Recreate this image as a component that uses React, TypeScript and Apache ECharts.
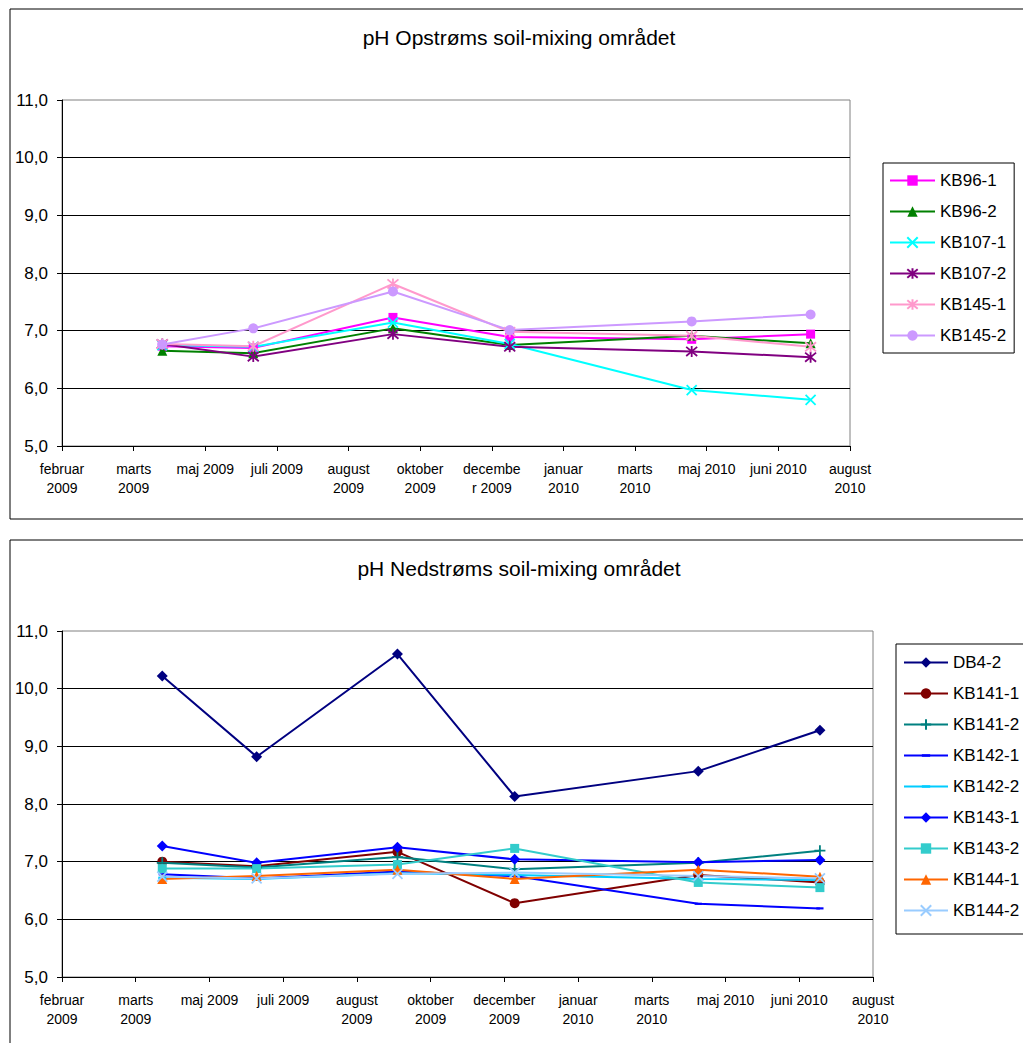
import React, { useEffect, useRef } from "react";
import * as echarts from "echarts";

const FONT = '"Liberation Sans", Arial, sans-serif';

// Tick labels (x axis positions 0..11)
const topTickLabels = [
  "februar\n2009", "marts\n2009", "maj 2009", "juli 2009", "august\n2009", "oktober\n2009",
  "decembe\nr 2009", "januar\n2010", "marts\n2010", "maj 2010", "juni 2010", "august\n2010",
];
const bottomTickLabels = [
  "februar\n2009", "marts\n2009", "maj 2009", "juli 2009", "august\n2009", "oktober\n2009",
  "december\n2009", "januar\n2010", "marts\n2010", "maj 2010", "juni 2010", "august\n2010",
];

// Sampling times, in axis units (tick index along the date axis)
const topTimes = [1.4, 2.67, 4.62, 6.25, 8.79, 10.45];
const bottomTimes = [1.36, 2.64, 4.55, 6.14, 8.63, 10.28];

// Upstream series
const topNames = ["KB96-1", "KB96-2", "KB107-1", "KB107-2", "KB145-1", "KB145-2"];
const kb96_1 = [6.73, 6.7, 7.23, 6.89, 6.85, 6.94];
const kb96_2 = [6.65, 6.61, 7.04, 6.75, 6.91, 6.78];
const kb107_1 = [6.75, 6.72, 7.14, 6.77, 5.97, 5.8];
const kb107_2 = [6.77, 6.55, 6.94, 6.72, 6.64, 6.54];
const kb145_1 = [6.77, 6.73, 7.81, 6.98, 6.91, 6.72];
const kb145_2 = [6.76, 7.04, 7.68, 7.01, 7.16, 7.28];

// Downstream series
const bottomNames = ["DB4-2", "KB141-1", "KB141-2", "KB142-1", "KB142-2", "KB143-1", "KB143-2", "KB144-1", "KB144-2"];
const db4_2 = [10.22, 8.82, 10.6, 8.13, 8.57, 9.28];
const kb141_1 = [7.0, 6.92, 7.17, 6.28, 6.77, 6.64];
const kb141_2 = [6.98, 6.9, 7.08, 6.87, 6.98, 7.19];
const kb142_1 = [6.78, 6.71, 6.83, 6.75, 6.27, 6.19];
const kb142_2 = [6.72, 6.7, 6.8, 6.77, 6.7, 6.68];
const kb143_1 = [7.27, 6.98, 7.25, 7.04, 6.99, 7.03];
const kb143_2 = [6.88, 6.88, 6.95, 7.23, 6.64, 6.55];
const kb144_1 = [6.7, 6.75, 6.86, 6.7, 6.86, 6.74];
const kb144_2 = [6.74, 6.71, 6.79, 6.81, 6.75, 6.71];

const X_PATH = "path://M0,0L10,10M10,0L0,10";
const STAR_PATH = "path://M0,0L10,10M10,0L0,10M5,-1L5,11";
const PLUS_PATH = "path://M5,0L5,10M0,5L10,5";
const DASH_PATH = "path://M0,0M1,3.8L9,3.8L9,6.2L1,6.2ZM10,10";

function mk(name: string, color: string, symbol: string, size: any, xs: number[], ys: number[], idx: number, stroke = false) {
  return {
    type: "line",
    name,
    xAxisIndex: idx,
    yAxisIndex: idx,
    data: xs.map((x, i) => [x, ys[i]]),
    symbol,
    symbolSize: size,
    showSymbol: true,
    lineStyle: { color, width: 2 },
    itemStyle: { color: stroke ? "rgba(0,0,0,0)" : color, borderColor: color, borderWidth: stroke ? 1.8 : 0 },
    emphasis: { disabled: true },
    z: 3,
  };
}

function yAxis(idx: number) {
  return {
    type: "value",
    gridIndex: idx,
    min: 5,
    max: 11,
    interval: 1,
    axisLine: { show: true, lineStyle: { color: "#000", width: 1 } },
    axisTick: { show: true, length: 5, lineStyle: { color: "#000" } },
    axisLabel: {
      formatter: (v: number) => v.toFixed(1).replace(".", ","),
      fontSize: 17,
      color: "#000",
      margin: 14,
      fontFamily: FONT,
    },
    splitLine: { show: true, showMaxLine: false, lineStyle: { color: "#000", width: 1 } },
  };
}

function xAxis(idx: number, labels: string[]) {
  return {
    type: "value",
    gridIndex: idx,
    min: 0,
    max: 11,
    interval: 1,
    axisLine: { show: true, onZero: false, lineStyle: { color: "#000", width: 1 } },
    axisTick: { show: true, length: 5, lineStyle: { color: "#000" } },
    axisLabel: {
      formatter: (v: number) => labels[Math.round(v)] ?? "",
      fontSize: 14,
      lineHeight: 19,
      color: "#000",
      margin: 13,
      fontFamily: FONT,
      showMinLabel: true,
      showMaxLabel: true,
    },
    splitLine: { show: false },
  };
}

function legend(names: string[], left: number, top: number, itemWidth: number, padding: number[]) {
  return {
    orient: "vertical",
    left,
    top,
    data: names,
    itemWidth,
    itemHeight: 13,
    itemGap: 14,
    padding,
    borderColor: "#000",
    borderWidth: 1,
    backgroundColor: "#fff",
    textStyle: { fontSize: 17, lineHeight: 17, color: "#000", fontFamily: FONT },
    selectedMode: false,
  };
}

export default function App() {
  const ref = useRef<HTMLDivElement>(null);
  useEffect(() => {
    if (!ref.current) return;
    const chart = echarts.init(ref.current, null, { renderer: "svg" });
    const option: any = {
      animation: false,
      backgroundColor: "#fff",
      graphic: [
        { type: "rect", shape: { x: 10, y: 9, width: 1030, height: 510 }, style: { fill: "rgba(0,0,0,0)", stroke: "#000", lineWidth: 1 }, z: 0 },
        { type: "rect", shape: { x: 10, y: 540, width: 1030, height: 530 }, style: { fill: "rgba(0,0,0,0)", stroke: "#000", lineWidth: 1 }, z: 0 },
        { type: "text", x: 519, y: 37, style: { text: "pH Opstrøms soil-mixing området", font: `21px ${FONT}`, fill: "#000", textAlign: "center", textVerticalAlign: "middle" } },
        { type: "text", x: 519, y: 568, style: { text: "pH Nedstrøms soil-mixing området", font: `21px ${FONT}`, fill: "#000", textAlign: "center", textVerticalAlign: "middle" } },
      ],
      grid: [
        { left: 62, top: 100, width: 788, height: 346, show: true, borderColor: "#808080", borderWidth: 1, backgroundColor: "rgba(0,0,0,0)" },
        { left: 62, top: 631, width: 811, height: 346, show: true, borderColor: "#808080", borderWidth: 1, backgroundColor: "rgba(0,0,0,0)" },
      ],
      xAxis: [xAxis(0, topTickLabels), xAxis(1, bottomTickLabels)],
      yAxis: [yAxis(0), yAxis(1)],
      legend: [
        legend(topNames, 883, 163, 45, [9, 8, 9, 6]),
        legend(bottomNames, 896, 644, 44, [10, 8, 15, 7]),
      ],
      series: [
        mk("KB96-1", "#FF00FF", "rect", 9, topTimes, kb96_1, 0),
        mk("KB96-2", "#008000", "triangle", 10, topTimes, kb96_2, 0),
        mk("KB107-1", "#00FFFF", X_PATH, 10, topTimes, kb107_1, 0, true),
        mk("KB107-2", "#800080", STAR_PATH, 11, topTimes, kb107_2, 0, true),
        mk("KB145-1", "#FF99CC", STAR_PATH, 11, topTimes, kb145_1, 0, true),
        mk("KB145-2", "#CC99FF", "circle", 10, topTimes, kb145_2, 0),

        mk("DB4-2", "#000080", "diamond", 11, bottomTimes, db4_2, 1),
        mk("KB141-1", "#800000", "circle", 10, bottomTimes, kb141_1, 1),
        mk("KB141-2", "#008080", PLUS_PATH, 11, bottomTimes, kb141_2, 1, true),
        mk("KB142-1", "#0000FF", DASH_PATH, 9, bottomTimes, kb142_1, 1),
        mk("KB142-2", "#00CCFF", DASH_PATH, 10, bottomTimes, kb142_2, 1),
        mk("KB143-1", "#0000FF", "diamond", 11, bottomTimes, kb143_1, 1),
        mk("KB143-2", "#33CCCC", "rect", 9, bottomTimes, kb143_2, 1),
        mk("KB144-1", "#FF6600", "triangle", 10, bottomTimes, kb144_1, 1),
        mk("KB144-2", "#99CCFF", X_PATH, 10, bottomTimes, kb144_2, 1, true),
      ],
    };
    chart.setOption(option);
    return () => chart.dispose();
  }, []);
  return <div ref={ref} style={{ position: "absolute", left: 0, top: 0, width: 1023, height: 1043 }} />;
}
